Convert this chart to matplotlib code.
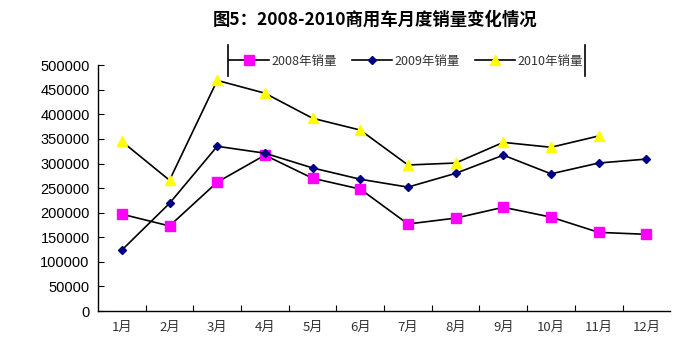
import numpy as np
import matplotlib
matplotlib.use('Agg')
import matplotlib.pyplot as plt
from matplotlib.lines import Line2D

plt.rcParams['font.family'] = ['Noto Sans CJK SC', 'DejaVu Sans']

months = ['1月', '2月', '3月', '4月', '5月', '6月', '7月', '8月', '9月', '10月', '11月', '12月']
sales_2008 = [197000, 173000, 262000, 317000, 270000, 248000, 177000, 189000, 211000, 191000, 160000, 156000]
sales_2009 = [124000, 219000, 335000, 321000, 291000, 268000, 252000, 280000, 317000, 279000, 301000, 309000]
sales_2010 = [345000, 266000, 469000, 443000, 392000, 368000, 297000, 301000, 343000, 333000, 356000]
yticks = np.arange(0, 500001, 50000)

fig = plt.figure(figsize=(6.74, 3.6), dpi=100)
ax = fig.add_axes([0.1454, 0.136, 0.849, 0.683])

x = np.arange(len(months))
ax.plot(x, sales_2008, color='black', lw=1.2, marker='s', ms=7,
        mfc='#FF00FF', mec='#FF00FF', label='2008年销量')
ax.plot(x, sales_2009, color='black', lw=1.2, marker='D', ms=4.5,
        mfc='#000080', mec='#000080', label='2009年销量')
ax.plot(x[:len(sales_2010)], sales_2010, color='black', lw=1.2, marker='^', ms=7,
        mfc='#FFFF00', mec='#FFFF00', label='2010年销量')

ax.set_xlim(-0.5, len(months) - 0.5)
ax.set_ylim(0, 500000)
ax.set_yticks(yticks)
ax.set_yticklabels([str(v) for v in yticks], fontsize=10.5, family=['Liberation Sans', 'DejaVu Sans'])
ax.set_xticks(x)
ax.set_xticklabels(months, fontsize=9.5, color='#333333')
ax.set_xticks(np.arange(0.5, len(months) - 0.5), minor=True)
ax.tick_params(axis='x', which='major', length=0, pad=7)
ax.tick_params(axis='x', which='minor', direction='in', length=4, width=0.8)
ax.tick_params(axis='y', direction='in', length=4, width=0.8, pad=6)
for s in ['top', 'right']:
    ax.spines[s].set_visible(False)
for s in ['left', 'bottom']:
    ax.spines[s].set_linewidth(1.0)

leg = fig.legend(loc='center', bbox_to_anchor=(0.602, 0.83), ncol=3, frameon=False,
                 fontsize=9, handlelength=3.2, columnspacing=1.2, handletextpad=0.2)
for t in leg.get_texts():
    t.set_color('#333333')
fig.add_artist(Line2D([0.339, 0.339], [0.79, 0.875], color='black', lw=1.2))
fig.add_artist(Line2D([0.868, 0.868], [0.79, 0.875], color='black', lw=1.2))

fig.text(0.556, 0.944, '图5：2008-2010商用车月度销量变化情况', ha='center', va='center',
         fontsize=12.5, fontweight='bold')

fig.savefig('out.png', dpi=100)
